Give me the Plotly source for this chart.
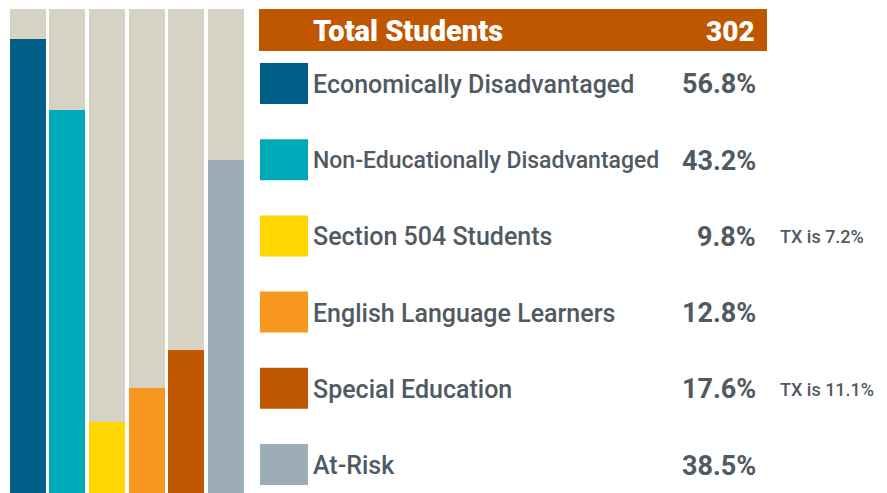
import plotly.graph_objects as go

# ---- data ----
categories = [
    "Economically Disadvantaged",
    "Non-Educationally Disadvantaged",
    "Section 504 Students",
    "English Language Learners",
    "Special Education",
    "At-Risk",
]
percent_labels = ["56.8%", "43.2%", "9.8%", "12.8%", "17.6%", "38.5%"]
bar_fill = [93.8, 79.1, 14.7, 21.7, 29.5, 68.8]   # filled share of each bar track
tx_notes = ["", "", "TX is 7.2%", "", "TX is 11.1%", ""]
total_label = "Total Students"
total_value = "302"

colors = ["#005f86", "#00a9b7", "#ffd600", "#f8971f", "#bf5700", "#9cadb7"]
track_color = "#d6d2c4"
header_color = "#bf5700"
text_color = "#505a62"
FONT = "Roboto"

W, H = 887, 493


def px(x):
    return x / W


def py(y):
    return 1 - y / H


fig = go.Figure()
xs = list(range(len(categories)))
fig.add_trace(go.Bar(x=xs, y=[100] * len(xs), marker=dict(color=track_color, line=dict(width=0)),
                     width=0.91, hoverinfo="skip", showlegend=False))
fig.add_trace(go.Bar(x=xs, y=bar_fill, marker=dict(color=colors, line=dict(width=0)),
                     width=0.91, customdata=percent_labels, text=categories,
                     hovertemplate="%{text}: %{customdata}<extra></extra>", textposition="none",
                     showlegend=False))

shapes = []
annotations = []

# header
shapes.append(dict(type="rect", xref="paper", yref="paper", x0=px(259), x1=px(767), y0=py(51), y1=py(9),
                   fillcolor=header_color, line=dict(width=0), layer="below"))
annotations.append(dict(x=px(311), y=py(31), xref="paper", yref="paper", text=total_label,
                        xanchor="left", yanchor="middle", showarrow=False,
                        font=dict(family=FONT, size=29, color="white", weight=900)))
annotations.append(dict(x=px(757), y=py(31), xref="paper", yref="paper", text=total_value,
                        xanchor="right", yanchor="middle", showarrow=False,
                        font=dict(family=FONT, size=28, color="white", weight=900)))

row0, pitch = 83.5, 76.2
for i, cat in enumerate(categories):
    cy = row0 + i * pitch
    shapes.append(dict(type="rect", xref="paper", yref="paper", x0=px(260), x1=px(308),
                       y0=py(cy + 20.5), y1=py(cy - 20.5), fillcolor=colors[i], line=dict(width=0)))
    size = 23 if len(cat) > 28 else 25
    annotations.append(dict(x=px(311), y=py(cy + 1), xref="paper", yref="paper", text=cat,
                            xanchor="left", yanchor="middle", showarrow=False,
                            font=dict(family=FONT, size=size, color=text_color, weight=500)))
    annotations.append(dict(x=px(758), y=py(cy + 1), xref="paper", yref="paper", text=percent_labels[i],
                            xanchor="right", yanchor="middle", showarrow=False,
                            font=dict(family=FONT, size=27, color=text_color, weight=700)))
    if tx_notes[i]:
        annotations.append(dict(x=px(778), y=py(cy + 1), xref="paper", yref="paper", text=tx_notes[i],
                                xanchor="left", yanchor="middle", showarrow=False,
                                font=dict(family=FONT, size=18, color=text_color, weight=500)))

fig.update_layout(
    width=W, height=H,
    margin=dict(l=0, r=0, t=0, b=0),
    paper_bgcolor="white", plot_bgcolor="white",
    barmode="overlay", bargap=0,
    xaxis=dict(domain=[px(8.2), px(245.8)], range=[-0.5, 5.5], visible=False, fixedrange=True),
    yaxis=dict(domain=[0, py(9)], range=[0, 100], visible=False, fixedrange=True),
    shapes=shapes, annotations=annotations,
    showlegend=False,
)

fig.write_html("out.html")
